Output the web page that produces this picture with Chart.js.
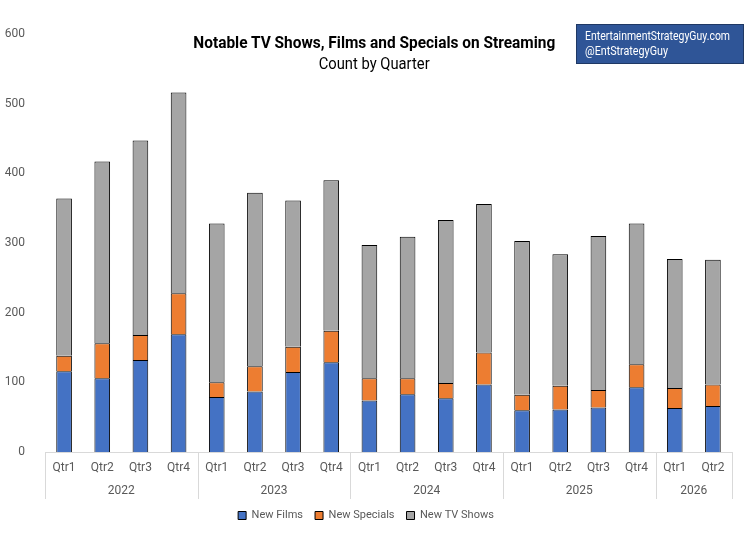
<!DOCTYPE html>
<html>
<head>
<meta charset="utf-8">
<script src="https://cdn.jsdelivr.net/npm/chart.js@4/dist/chart.umd.min.js"></script>
<style>
    body { margin: 0; background: #fff; }
    #wrap { position: relative; width: 754px; height: 550px; font-family: Roboto, 'Liberation Sans', sans-serif; }
    .line { position: absolute; left: 0; width: 748px; text-align: center; color: #000; white-space: nowrap; }
    .line span { display: inline-block; transform-origin: center center; }
    #title { top: 32px; font-size: 17px; line-height: 20px; font-weight: bold; }
    #subtitle { top: 54px; font-size: 16px; line-height: 20px; }
    #tag { position: absolute; left: 576px; top: 24px; width: 158px; height: 34px; padding: 3px 0 1px 8px; background: #2F5597; border: 1px solid #1F3864; color: #fff; font-size: 13px; line-height: 15px; white-space: nowrap; }
    #tag span { display: inline-block; transform-origin: left center; }
</style>
</head>
<body>
<div id="wrap">
    <canvas id="chart"></canvas>
    <div id="title" class="line"><span data-w="362">Notable TV Shows, Films and Specials on Streaming</span></div>
    <div id="subtitle" class="line"><span data-w="111">Count by Quarter</span></div>
    <div id="tag"><span data-w="145">EntertainmentStrategyGuy.com</span><br><span data-w="83">@EntStrategyGuy</span></div>
</div>
<script>
'use strict';

// Chart data:
var quarters = ['Qtr1', 'Qtr2', 'Qtr3', 'Qtr4', 'Qtr1', 'Qtr2', 'Qtr3', 'Qtr4', 'Qtr1', 'Qtr2', 'Qtr3', 'Qtr4', 'Qtr1', 'Qtr2', 'Qtr3', 'Qtr4', 'Qtr1', 'Qtr2'];
var years = ['2022', '2022', '2022', '2022', '2023', '2023', '2023', '2023', '2024', '2024', '2024', '2024', '2025', '2025', '2025', '2025', '2026', '2026'];
var newFilms = [116, 106, 132, 169, 79, 87, 115, 129, 74, 83, 77, 97, 60, 61, 64, 93, 63, 66];
var newSpecials = [22, 50, 36, 59, 21, 36, 36, 45, 32, 23, 22, 46, 22, 34, 25, 33, 29, 31];
var newTvShows = [226, 261, 279, 288, 228, 249, 210, 216, 191, 203, 234, 213, 221, 189, 221, 202, 185, 179];
var yTicks = [0, 100, 200, 300, 400, 500, 600];

var fontFamily = "Roboto, 'Liberation Sans', sans-serif";
var labelColor = '#595959';
var lineColor = '#D9D9D9';

// The original uses a condensed face; squeeze the HTML text to its widths:
document.querySelectorAll('span[data-w]').forEach(function (span) {
    var w = span.getBoundingClientRect().width;
    var target = parseFloat(span.getAttribute('data-w'));
    if (w > 0) {
        span.style.transform = 'scaleX(' + (target / w).toFixed(3) + ')';
    }
});

// Year groups under the quarter labels, with separator lines:
var yearGroups = {
    id: 'yearGroups',
    afterDraw: function (chart) {
        var ctx = chart.ctx;
        var x = chart.scales.x;
        var top = x.top;
        var bottom = top + 47;
        var edges = [x.left];
        years.forEach(function (yr, i) {
            if (i > 0 && years[i - 1] !== yr) {
                edges.push((x.getPixelForValue(i - 1) + x.getPixelForValue(i)) / 2);
            }
        });
        edges.push(x.right);

        ctx.save();
        ctx.strokeStyle = lineColor;
        ctx.lineWidth = 1;
        edges.forEach(function (px) {
            var p = Math.round(px) + 0.5;
            ctx.beginPath();
            ctx.moveTo(p, top);
            ctx.lineTo(p, bottom);
            ctx.stroke();
        });

        ctx.fillStyle = labelColor;
        ctx.font = '12px ' + fontFamily;
        ctx.textAlign = 'center';
        ctx.textBaseline = 'middle';
        var uniqueYears = years.filter(function (yr, i) { return years.indexOf(yr) === i; });
        uniqueYears.forEach(function (yr, k) {
            ctx.fillText(yr, (edges[k] + edges[k + 1]) / 2, top + 39);
        });
        ctx.restore();
    }
};

var ctx = document.getElementById('chart').getContext('2d');
var chart = new Chart(ctx, {
    type: 'bar',
    data: {
        labels: quarters,
        datasets: [{
            label: 'New Films',
            data: newFilms,
            backgroundColor: '#4472C4',
            borderColor: '#000000',
            borderWidth: 1
        }, {
            label: 'New Specials',
            data: newSpecials,
            backgroundColor: '#ED7D31',
            borderColor: '#000000',
            borderWidth: 1
        }, {
            label: 'New TV Shows',
            data: newTvShows,
            backgroundColor: '#A5A5A5',
            borderColor: '#000000',
            borderWidth: 1
        }]
    },
    options: {
        responsive: true,
        maintainAspectRatio: false,
        animation: false,
        barPercentage: 0.41,
        categoryPercentage: 1,
        layout: {
            padding: { top: 34, right: 22, bottom: 19, left: 0 }
        },
        plugins: {
            legend: {
                position: 'bottom',
                labels: {
                    boxWidth: 8,
                    boxHeight: 8,
                    padding: 12,
                    color: labelColor,
                    font: { family: fontFamily, size: 11 }
                }
            },
            title: { display: false },
            tooltip: { enabled: false }
        },
        scales: {
            x: {
                stacked: true,
                grid: { display: false, drawTicks: false },
                border: { display: true, color: lineColor, width: 1 },
                ticks: {
                    color: labelColor,
                    padding: 9,
                    maxRotation: 0,
                    autoSkip: false,
                    font: { family: fontFamily, size: 12 }
                },
                afterFit: function (scale) { scale.height = 46; }
            },
            y: {
                stacked: true,
                min: 0,
                max: 600,
                grid: { display: false },
                border: { display: false },
                afterBuildTicks: function (scale) {
                    scale.ticks = yTicks.map(function (v) { return { value: v }; });
                },
                ticks: {
                    color: labelColor,
                    padding: 12,
                    font: { family: fontFamily, size: 12 }
                },
                afterFit: function (scale) { scale.width = 45; }
            }
        }
    },
    plugins: [yearGroups]
});
</script>
</body>
</html>
